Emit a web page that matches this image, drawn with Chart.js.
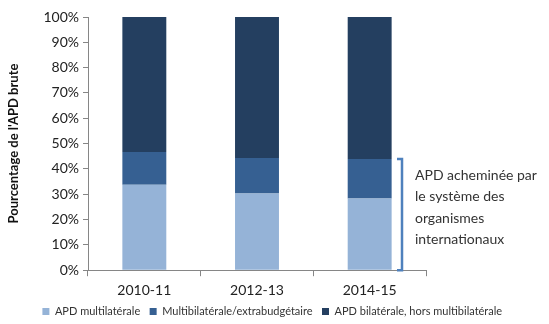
<!DOCTYPE html>
<html>
<head>
<meta charset="utf-8">
<script src="https://cdn.jsdelivr.net/npm/chart.js@4/dist/chart.umd.min.js"></script>
<style>
  body { margin: 0; background: #fff; }
  #wrap { width: 549px; height: 324px; }
</style>
</head>
<body>
<div id="wrap"><canvas id="apd" width="549" height="324"></canvas></div>
<script>
const periods = ["2010-11", "2012-13", "2014-15"];
const multilateral = [33.7, 30.3, 28.3];
const multiBilateral = [13.0, 14.0, 15.6];
const bilateral = [53.3, 55.7, 56.1];
const seriesNames = ["APD multilatérale", "Multibilatérale/extrabudgétaire", "APD bilatérale, hors multibilatérale"];
const noteLines = ["APD acheminée par", "le système des", "organismes", "internationaux"];

const fontFamily = "Lato, 'Liberation Sans', sans-serif";

// bracket next to the last bar, covering multilateral + multibilateral
const bracketPlugin = {
    id: "bracket",
    afterDraw(chart) {
        const ctx = chart.ctx;
        const y = chart.scales.y;
        const last = periods.length - 1;
        const top = y.getPixelForValue(multilateral[last] + multiBilateral[last]);
        const bottom = y.getPixelForValue(0);
        const x = chart.chartArea.right - 24;
        ctx.save();
        ctx.strokeStyle = "#4f81bd";
        ctx.lineWidth = 2.5;
        ctx.beginPath();
        ctx.moveTo(x - 5, top);
        ctx.lineTo(x, top);
        ctx.lineTo(x, bottom);
        ctx.lineTo(x - 5, bottom);
        ctx.stroke();
        ctx.fillStyle = "#333";
        ctx.font = "14px " + fontFamily;
        ctx.textBaseline = "middle";
        noteLines.forEach((line, i) => {
            ctx.fillText(line, x + 13, top + 16 + i * 21.5);
        });
        ctx.restore();
    }
};

new Chart(document.getElementById("apd"), {
    type: "bar",
    data: {
        labels: periods,
        datasets: [
            { label: seriesNames[0], data: multilateral, backgroundColor: "rgb(149,179,215)" },
            { label: seriesNames[1], data: multiBilateral, backgroundColor: "rgb(54,96,146)" },
            { label: seriesNames[2], data: bilateral, backgroundColor: "rgb(36,63,96)" }
        ]
    },
    options: {
        responsive: false,
        animation: false,
        layout: { padding: { left: 4, right: 0, top: 17, bottom: -3 } },
        datasets: { bar: { categoryPercentage: 0.39, barPercentage: 1 } },
        plugins: {
            legend: {
                position: "bottom",
                labels: {
                    boxWidth: 7, boxHeight: 7, padding: 1,
                    color: "#333",
                    font: { size: 11, family: fontFamily },
                    generateLabels(chart) {
                        // a little room between the items, as the vertical padding is tight
                        return Chart.defaults.plugins.legend.labels.generateLabels(chart)
                            .map(l => ({ ...l, text: l.text + "   " }));
                    }
                }
            },
            tooltip: { enabled: false }
        },
        scales: {
            x: {
                stacked: true,
                grid: { display: true, drawOnChartArea: false, offset: true, tickLength: 6, color: "#868686" },
                border: { color: "#868686" },
                ticks: { color: "#222", font: { size: 14, family: fontFamily }, padding: 6 }
            },
            y: {
                stacked: true,
                min: 0, max: 100,
                afterFit(s) { s.width = 84; },
                grid: { display: true, drawOnChartArea: false, tickLength: 5, color: "#868686" },
                border: { color: "#868686" },
                ticks: {
                    stepSize: 10,
                    color: "#222",
                    font: { size: 14, family: fontFamily },
                    padding: 4,
                    callback: v => v + "%"
                },
                title: {
                    display: true,
                    text: "Pourcentage de l'APD brute",
                    color: "#111",
                    font: { size: 13, weight: "bold", family: fontFamily },
                    padding: 2
                }
            },
            // empty right axis, only reserves room for the note
            side: {
                position: "right",
                min: 0, max: 100,
                grid: { display: false },
                border: { display: false },
                ticks: { display: false },
                afterFit(s) { s.width = 123; }
            }
        }
    },
    plugins: [bracketPlugin]
});
</script>
</body>
</html>
